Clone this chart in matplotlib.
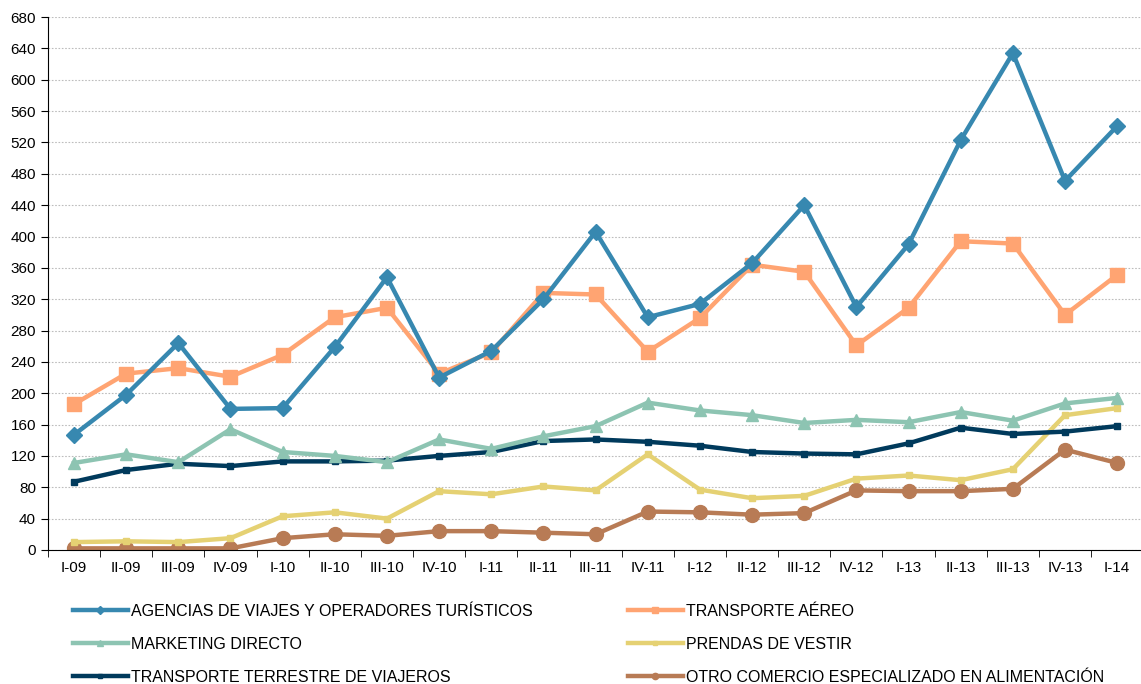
import matplotlib.pyplot as plt
import numpy as np

plt.rcParams['font.family'] = ['Liberation Sans', 'DejaVu Sans']

trimestres = ['I-09', 'II-09', 'III-09', 'IV-09', 'I-10', 'II-10', 'III-10', 'IV-10',
              'I-11', 'II-11', 'III-11', 'IV-11', 'I-12', 'II-12', 'III-12', 'IV-12',
              'I-13', 'II-13', 'III-13', 'IV-13', 'I-14']

agencias = [147, 198, 264, 180, 181, 259, 348, 220, 254, 320, 406, 297, 314, 366,
            440, 310, 390, 523, 634, 471, 541]
aereo = [186, 225, 232, 221, 249, 297, 309, 225, 252, 328, 326, 253, 296, 364,
         355, 261, 309, 394, 391, 300, 351]
marketing = [111, 122, 112, 154, 125, 120, 112, 141, 129, 145, 158, 188, 178, 172,
             162, 166, 163, 176, 165, 187, 194]
prendas = [10, 11, 10, 15, 43, 48, 40, 75, 71, 81, 76, 122, 77, 66,
           69, 91, 95, 89, 103, 172, 181]
terrestre = [87, 102, 110, 107, 113, 113, 114, 120, 125, 139, 141, 138, 133, 125,
             123, 122, 136, 156, 148, 151, 158]
otro = [2, 2, 2, 2, 15, 20, 18, 24, 24, 22, 20, 49, 48, 45,
        47, 76, 75, 75, 78, 128, 111]

fig = plt.figure(figsize=(11.41, 6.84), dpi=100)
ax = fig.add_axes([0.042, 0.196, 0.960, 0.779])

x = np.arange(len(trimestres))
lw = 3.2

# orden de dibujo: las de abajo primero
l_otro, = ax.plot(x, otro, color='#B87B55', lw=lw, marker='o', ms=10,
                  label='OTRO COMERCIO ESPECIALIZADO EN ALIMENTACIÓN')
l_prendas, = ax.plot(x, prendas, color='#E5D173', lw=lw, marker='s', ms=5,
                     label='PRENDAS DE VESTIR')
l_terr, = ax.plot(x, terrestre, color='#003A5C', lw=lw, marker='s', ms=5,
                  label='TRANSPORTE TERRESTRE DE VIAJEROS')
l_mark, = ax.plot(x, marketing, color='#8DC4B2', lw=lw, marker='^', ms=9,
                  label='MARKETING DIRECTO')
l_aereo, = ax.plot(x, aereo, color='#FFA472', lw=lw, marker='s', ms=10,
                   label='TRANSPORTE AÉREO')
l_ag, = ax.plot(x, agencias, color='#3788B0', lw=lw, marker='D', ms=8,
                label='AGENCIAS DE VIAJES Y OPERADORES TURÍSTICOS')

ax.set_xlim(-0.5, len(trimestres) - 0.5)
ax.set_ylim(0, 680)
ax.set_yticks(np.arange(0, 681, 40))
ax.set_xticks(x)
ax.set_xticklabels(trimestres)
ax.set_xticks(np.arange(-0.5, len(trimestres), 1), minor=True)
ax.tick_params(axis='x', which='major', length=0, labelsize=11, pad=8)
ax.tick_params(axis='x', which='minor', length=5, direction='out')
ax.tick_params(axis='y', length=5, direction='out', labelsize=11)
ax.grid(axis='y', color='#BDBDBD', linestyle=(0, (1.5, 1.5)), lw=0.8)
ax.set_axisbelow(True)
for s in ['top', 'right']:
    ax.spines[s].set_visible(False)

# leyenda en dos columnas, cada una como leyenda propia
opts = dict(loc='upper left', frameon=False, fontsize=11.5, handlelength=3.44,
            handletextpad=0.19, labelspacing=1.13, markerscale=0.45,
            borderpad=0, borderaxespad=0)
leg1 = fig.legend(handles=[l_ag, l_mark, l_terr], bbox_to_anchor=(73 / 1141, 0.1176), **opts)
leg2 = fig.legend(handles=[l_aereo, l_prendas, l_otro], bbox_to_anchor=(628 / 1141, 0.1176), **opts)

fig.savefig('out.png', dpi=100)
